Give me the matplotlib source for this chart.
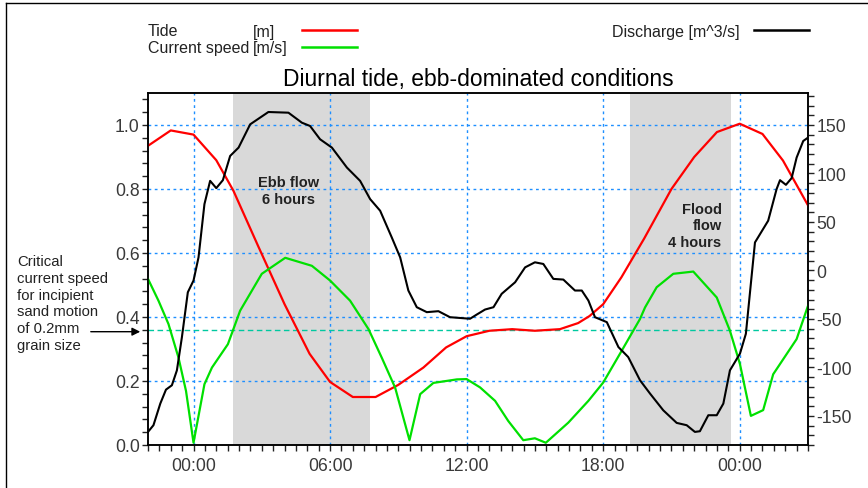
import matplotlib.pyplot as plt
import matplotlib.ticker as ticker
from matplotlib.lines import Line2D

plt.rcParams['font.family'] = ['Liberation Sans', 'DejaVu Sans']
plt.rcParams['axes.unicode_minus'] = False

# hours relative to midnight of day 1
tide_hours = [-2.0, -1.0, 0.0, 1.0, 1.75, 2.85, 4.0, 5.1, 6.0, 7.0, 8.0, 9.0, 10.1, 11.1,
              12.0, 13.0, 14.0, 15.0, 16.1, 16.9, 17.4, 18.0, 18.8, 19.8, 21.0, 22.0,
              23.0, 24.0, 25.0, 25.9, 27.0]
tide_m = [0.935, 0.983, 0.970, 0.89, 0.795, 0.62, 0.44, 0.285, 0.197, 0.150, 0.150, 0.188,
          0.242, 0.305, 0.340, 0.357, 0.362, 0.357, 0.362, 0.381, 0.403, 0.44, 0.524,
          0.645, 0.80, 0.90, 0.978, 1.004, 0.972, 0.889, 0.749]

speed_hours = [-2.0, -1.54, -1.10, -0.66, -0.33, 0.0, 0.48, 0.81, 1.51, 2.05, 3.0, 4.03,
               5.2, 6.0, 6.88, 7.69, 8.27, 8.86, 9.49, 9.96, 10.54, 11.57, 12.0, 12.59,
               13.25, 13.83, 14.49, 15.0, 15.48, 16.47, 17.35, 18.0, 18.81, 19.62, 19.84,
               20.35, 21.08, 21.96, 22.99, 23.57, 24.01, 24.49, 25.03, 25.47, 26.5, 27.0]
speed_ms = [0.519, 0.451, 0.378, 0.273, 0.169, 0.007, 0.19, 0.242, 0.315, 0.42, 0.535, 0.585,
            0.56, 0.514, 0.451, 0.362, 0.273, 0.179, 0.015, 0.159, 0.194, 0.205, 0.206, 0.18,
            0.138, 0.075, 0.015, 0.021, 0.007, 0.070, 0.138, 0.195, 0.294, 0.394, 0.43,
            0.493, 0.535, 0.542, 0.461, 0.357, 0.253, 0.091, 0.109, 0.221, 0.331, 0.435]

discharge_hours = [-2.0, -1.76, -1.46, -1.21, -0.95, -0.73, -0.51, -0.25, 0.0, 0.22, 0.48,
                   0.73, 1.0, 1.29, 1.61, 1.98, 2.49, 3.29, 4.17, 4.76, 5.12, 5.56, 6.08,
                   6.74, 7.32, 7.76, 8.2, 8.71, 9.08, 9.44, 9.81, 10.25, 10.76, 11.27, 12.15,
                   12.45, 12.81, 13.18, 13.54, 14.13, 14.57, 15.0, 15.37, 15.81, 16.25, 16.76,
                   17.06, 17.35, 17.64, 18.16, 18.67, 19.1, 19.62, 20.06, 20.64, 21.23, 21.67,
                   22.03, 22.25, 22.62, 22.99, 23.28, 23.57, 24.01, 24.27, 24.67, 25.25, 25.62,
                   25.77, 26.03, 26.28, 26.5, 26.79, 27.0]
discharge_m3s = [-166.5, -159.6, -137.3, -122.9, -118.4, -103, -68.8, -22.5, -10.4, 13.5, 68.4,
                 92.4, 84.9, 93.1, 118.1, 126.7, 150.7, 163.4, 162.7, 152.4, 149, 135.3, 126.7,
                 106.1, 92.4, 73.6, 61.6, 34.1, 13.5, -20.7, -37.9, -43.0, -42, -48.2, -49.8,
                 -45.4, -40.3, -37.9, -24.1, -12.2, 3.2, 8.4, 6.7, -8.7, -9.4, -20.7,
                 -20.7, -31, -48.2, -53.3, -79, -89.3, -113.3, -127, -144.2, -157.2, -159.6,
                 -166.5, -165.8, -149.3, -149.3, -137.3, -103, -85.8, -65.3, 28.9, 51.3, 83.9,
                 93.1, 88.3, 95.2, 116.4, 133.5, 137]

critical_speed = 0.36
ebb_window = (1.75, 7.75)
flood_window = (19.2, 23.6)
hour_ticks = [0, 6, 12, 18, 24]
hour_labels = ['00:00', '06:00', '12:00', '18:00', '00:00']

fig = plt.figure(figsize=(8.68, 4.89), dpi=100)
ax = fig.add_axes([148/868, 1 - 446/489, 660/868, 352/489])
ax2 = ax.twinx()

grid_kw = dict(color='#1e8fff', linewidth=1, linestyle=(0, (2, 2.5)), zorder=1)

ax.axvspan(*ebb_window, color='#d9d9d9', lw=0, zorder=0)
ax.axvspan(*flood_window, color='#d9d9d9', lw=0, zorder=0)
for h in hour_ticks:
    ax.axvline(h, **grid_kw)
for v in [0.2, 0.4, 0.6, 0.8, 1.0]:
    ax.axhline(v, **grid_kw)
ax.axhline(critical_speed, color='#00c8a0', linewidth=1, linestyle=(0, (4, 2.5)), zorder=1)

ax.plot(tide_hours, tide_m, color='#ff0000', lw=1.6, zorder=3)
ax.plot(speed_hours, speed_ms, color='#00e000', lw=1.6, zorder=3)
ax2.plot(discharge_hours, discharge_m3s, color='black', lw=1.5, zorder=3)

ax.set_xlim(-2, 27)
ax.set_ylim(0, 1.1)
ax2.set_ylim(-180, 183)

ax.set_xticks(hour_ticks)
ax.set_xticklabels(hour_labels)
ax.xaxis.set_minor_locator(ticker.MultipleLocator(0.5))
ax.yaxis.set_major_locator(ticker.MultipleLocator(0.2))
ax.yaxis.set_major_formatter(ticker.FormatStrFormatter('%.1f'))
ax.yaxis.set_minor_locator(ticker.MultipleLocator(0.04))
ax2.yaxis.set_major_locator(ticker.MultipleLocator(50))
ax2.yaxis.set_minor_locator(ticker.MultipleLocator(10))

for a in (ax, ax2):
    a.tick_params(which='both', direction='out', length=4, width=1, color='#222222',
                  labelsize=12.7, labelcolor='#3a3a3a')
    for s in a.spines.values():
        s.set_linewidth(1.1)
ax.tick_params(axis='y', pad=2)
ax.tick_params(axis='x', pad=5)
ax2.tick_params(axis='y', pad=2)

ax.set_title('Diurnal tide, ebb-dominated conditions', fontsize=16.5, pad=6)

ax.text(4.18, 0.795, 'Ebb flow\n6 hours', ha='center', va='center', fontsize=10.5,
        fontweight='bold', color='#222222', linespacing=1.2, zorder=4)
ax.text(23.2, 0.686, 'Flood\nflow\n4 hours', ha='right', va='center', fontsize=10.5,
        fontweight='bold', color='#222222', linespacing=1.25, multialignment='right', zorder=4)

# note on the critical speed, left of the axes
fig.text(17/868, 1 - 304/489, 'Critical\ncurrent speed\nfor incipient\nsand motion\nof 0.2mm\ngrain size',
         ha='left', va='center', fontsize=10.7, color='#222222', linespacing=1.25)
fig.add_artist(plt.Annotation('', xy=(143/868, 1 - 332.7/489), xytext=(88/868, 1 - 332.7/489),
                              xycoords='figure fraction', textcoords='figure fraction',
                              arrowprops=dict(arrowstyle='-|>', color='black', lw=1,
                                              mutation_scale=12)))

# legend rows drawn by hand above the plot
def legend_row(x_label, y, label, unit, color, x_line):
    fig.text(x_label/868, 1 - y/489, label, ha='left', va='center', fontsize=11.5, color='#222222')
    if unit:
        fig.text(253/868, 1 - y/489, unit, ha='left', va='center', fontsize=11.5, color='#222222')
    fig.add_artist(Line2D([x_line[0]/868, x_line[1]/868], [1 - (y - 1)/489] * 2,
                          color=color, lw=1.8, transform=fig.transFigure))

legend_row(148, 32, 'Tide', '[m]', '#ff0000', (302, 357))
legend_row(148, 49, 'Current speed', '[m/s]', '#00e000', (302, 357))
fig.text(740/868, 1 - 32/489, 'Discharge [m^3/s]', ha='right', va='center', fontsize=11.5, color='#222222')
fig.add_artist(Line2D([754/868, 809/868], [1 - 31/489] * 2, color='black', lw=1.8,
                      transform=fig.transFigure))

# outer frame
fig.add_artist(Line2D([6/868, 6/868], [0, 1 - 4/489], color='black', lw=1, transform=fig.transFigure))
fig.add_artist(Line2D([6/868, 1], [1 - 4/489, 1 - 4/489], color='black', lw=1, transform=fig.transFigure))

fig.savefig('out.png', dpi=100)
